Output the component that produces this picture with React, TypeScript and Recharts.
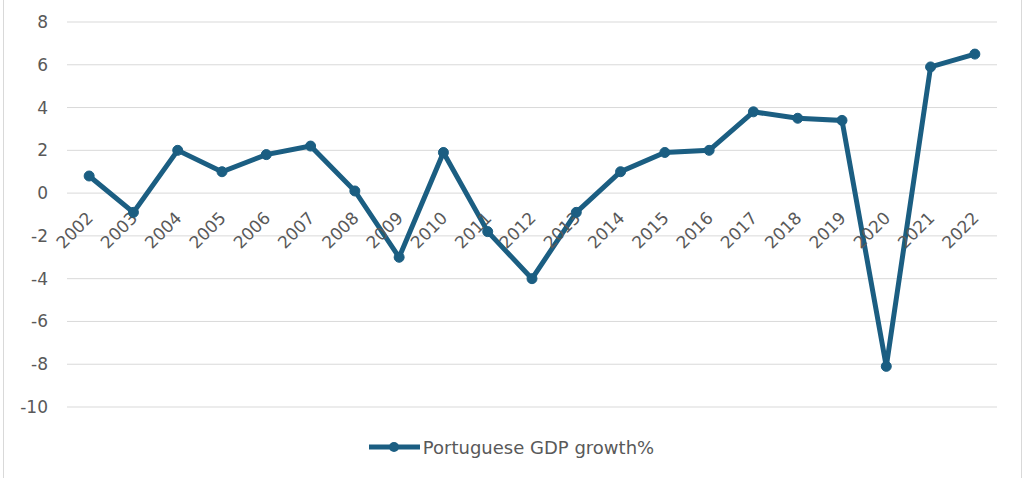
import React from 'react';
import { LineChart, Line, XAxis, YAxis, CartesianGrid, Legend, ReferenceDot } from 'recharts';

const years = ['2002','2003','2004','2005','2006','2007','2008','2009','2010','2011','2012','2013','2014','2015','2016','2017','2018','2019','2020','2021','2022'];
const growth = [0.8,-0.9,2.0,1.0,1.8,2.2,0.1,-3.0,1.9,-1.8,-4.0,-0.9,1.0,1.9,2.0,3.8,3.5,3.4,-8.1,5.9,6.5];
const yTicks = [-10,-8,-6,-4,-2,0,2,4,6,8];
const seriesName = 'Portuguese GDP growth%';

const data = years.map((y, i) => ({ year: y, value: growth[i] }));

const COLOR = '#1b5e82';
const TEXT = '#595959';
const FONT = '"DejaVu Sans", sans-serif';

const YearLabel = (props: any) => {
  const { viewBox, value } = props;
  const cx = viewBox.x + (viewBox.width || 0) / 2;
  const cy = viewBox.y + (viewBox.height || 0) / 2;
  const x = cx + 5;
  const y = cy + 26;
  return (
    <text x={x} y={y} transform={`rotate(-45 ${x} ${y})`} textAnchor="end" fontSize={17} fill={TEXT} fontFamily={FONT}>
      {value}
    </text>
  );
};

const LegendContent = (props: any) => {
  const { payload } = props;
  return (
    <div style={{ display: 'flex', justifyContent: 'center', alignItems: 'center', height: 24 }}>
      {(payload || []).map((p: any) => (
        <div key={p.value} style={{ display: 'flex', alignItems: 'center' }}>
          <svg width={54} height={24}>
            <line x1={1} y1={12} x2={52} y2={12} stroke={COLOR} strokeWidth={5} />
            <circle cx={26} cy={12} r={5} fill={COLOR} />
          </svg>
          <span style={{ fontFamily: FONT, fontSize: 18, color: TEXT, marginLeft: 1 }}>{p.value}</span>
        </div>
      ))}
    </div>
  );
};

export default function App() {
  return (
    <div style={{ position: 'absolute', left: 0, top: 0, width: 1022, height: 478, background: '#fff' }}>
      <div style={{ position: 'absolute', left: 3, top: 0, width: 1017, height: 478, borderLeft: '1px solid #d9d9d9', borderRight: '1px solid #d9d9d9' }} />
      <LineChart width={1022} height={478} data={data} margin={{ top: 22, right: 25, left: 7, bottom: 47 }}>
        <CartesianGrid vertical={false} stroke="#d9d9d9" strokeWidth={1} />
        <XAxis dataKey="year" scale="band" hide />
        <YAxis
          domain={[-10, 8]}
          ticks={yTicks}
          width={60}
          axisLine={false}
          tickLine={false}
          tickMargin={13}
          tick={{ fontSize: 17, fill: TEXT, fontFamily: FONT }}
          interval={0}
        />
        {years.map((y) => (
          <ReferenceDot key={y} x={y} y={0} r={0} stroke="none" fill="none" label={<YearLabel value={y} />} />
        ))}
        <Line
          type="linear"
          dataKey="value"
          name={seriesName}
          stroke={COLOR}
          strokeWidth={5}
          dot={{ r: 5, fill: COLOR, stroke: COLOR, strokeWidth: 1 }}
          activeDot={false}
          isAnimationActive={false}
        />
        <Legend verticalAlign="bottom" wrapperStyle={{ top: 435, left: 0, width: 1022 }} content={<LegendContent />} />
      </LineChart>
    </div>
  );
}
